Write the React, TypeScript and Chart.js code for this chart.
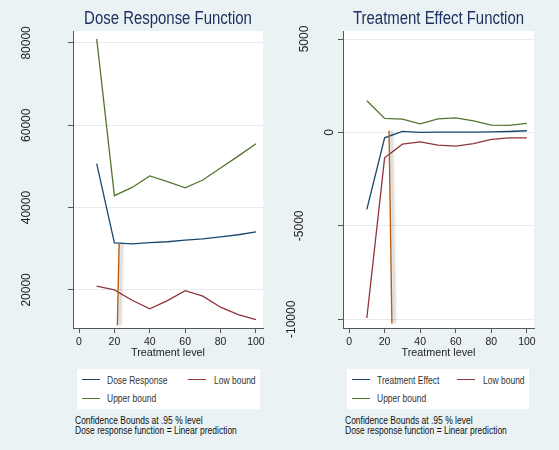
import React, { useEffect, useRef } from "react";
import { Chart, registerables } from "chart.js";

Chart.register(...registerables);

const REGULAR = '"Liberation Sans", Arial, sans-serif';

// ---------- data ----------
const treatmentLevels = [10, 20, 30, 40, 50, 60, 70, 80, 90, 100];

const doseResponse = [50700, 31400, 31200, 31500, 31700, 32100, 32400, 32900, 33400, 34100];
const doseLow = [20900, 20000, 17500, 15400, 17400, 19800, 18500, 15800, 14000, 12800];
const doseUpper = [81000, 42900, 44900, 47700, 46300, 44800, 46700, 49600, 52500, 55500];

const effect = [-4120, -290, 60, 0, 20, 20, 20, 30, 50, 90];
const effectLow = [-9930, -1360, -630, -500, -680, -730, -600, -370, -290, -290];
const effectUpper = [1700, 750, 710, 460, 730, 780, 620, 390, 380, 480];

const doseCutX = [21.7, 22.7];
const doseCutY = [11400, 31400];
const effectCutX = [24.1, 22.5];
const effectCutY = [-10230, 90];

const xTickValues = [0, 20, 40, 60, 80, 100];
const doseYTicks = [20000, 40000, 60000, 80000];
const effectYTicks = [-10000, -5000, 0, 5000];

const doseTitle = "Dose Response Function";
const effectTitle = "Treatment Effect Function";
const xAxisTitle = "Treatment level";
const noteLines = ["Confidence Bounds at .95 % level", "Dose response function = Linear prediction"];

const COLORS = {
  bg: "#eaf2f3",
  navy: "#1a476f",
  maroon: "#90353b",
  green: "#55752f",
  orange: "#b85f16",
  title: "#1e3160",
  axis: "#555555",
  grid: "#e4ecef",
  text: "#222222",
};

const pts = (xs: number[], ys: number[]) => xs.map((x, i) => ({ x, y: ys[i] }));

// ---------- plugins ----------
const plotBg = {
  id: "plotBg",
  beforeDraw(chart: any) {
    const { ctx, chartArea } = chart;
    ctx.save();
    ctx.fillStyle = "#ffffff";
    ctx.fillRect(chartArea.left, chartArea.top, chartArea.right - chartArea.left, chartArea.bottom - chartArea.top);
    ctx.restore();
  },
};

const shadowLine = {
  id: "shadowLine",
  beforeDatasetDraw(chart: any, args: any) {
    const ds = chart.data.datasets[args.index];
    if (ds && ds.withShadow) {
      const ctx = chart.ctx;
      ctx.save();
      ctx.shadowColor = "rgba(0,0,0,0.35)";
      ctx.shadowOffsetX = 2.5;
      ctx.shadowOffsetY = 0;
      ctx.shadowBlur = 3;
    }
  },
  afterDatasetDraw(chart: any, args: any) {
    const ds = chart.data.datasets[args.index];
    if (ds && ds.withShadow) chart.ctx.restore();
  },
};

const rotatedYLabels = {
  id: "rotatedYLabels",
  afterDraw(chart: any) {
    const y = chart.scales.y;
    const ctx = chart.ctx;
    ctx.save();
    ctx.font = `12px ${REGULAR}`;
    ctx.fillStyle = COLORS.text;
    ctx.textAlign = "center";
    ctx.textBaseline = "middle";
    y.ticks.forEach((t: any) => {
      const label = String(t.value);
      const w = ctx.measureText(label).width;
      const py = y.getPixelForValue(t.value);
      const cx = chart.chartArea.left - 4.5 - 1.25 * w;
      ctx.save();
      ctx.translate(cx, py);
      ctx.rotate(-Math.PI / 2);
      ctx.fillText(label, 0, 0);
      ctx.restore();
    });
    ctx.restore();
  },
};

const scaledTitle = {
  id: "scaledTitle",
  afterDraw(chart: any, _args: any, opts: any) {
    const { ctx, chartArea } = chart;
    ctx.save();
    ctx.font = `18px ${REGULAR}`;
    ctx.fillStyle = COLORS.title;
    ctx.textAlign = "center";
    ctx.textBaseline = "middle";
    ctx.translate((chartArea.left + chartArea.right) / 2, 19.5);
    ctx.scale(0.83, 1);
    ctx.fillText(opts.text, 0, 0);
    ctx.restore();
  },
};

type PanelSpec = {
  title: string;
  seriesLabel: string;
  main: number[];
  low: number[];
  upper: number[];
  cutX: number[];
  cutY: number[];
  yTicks: number[];
  yMin: number;
  yMax: number;
  yAxisWidth: number;
  padRight: number;
  legendLeft: number;
  noteLeft: number;
};

const CANVAS_W = 279;
const CANVAS_H = 365;

function Panel({ spec, left }: { spec: PanelSpec; left: number }) {
  const ref = useRef<HTMLCanvasElement | null>(null);
  useEffect(() => {
    if (!ref.current) return;
    const chart = new Chart(ref.current, {
      type: "line",
      data: {
        datasets: [
          {
            label: "cut",
            data: pts(spec.cutX, spec.cutY),
            borderColor: COLORS.orange,
            borderWidth: 1.4,
            pointRadius: 0,
            order: 0,
            withShadow: true,
          } as any,
          {
            label: spec.seriesLabel,
            data: pts(treatmentLevels, spec.main),
            borderColor: COLORS.navy,
            borderWidth: 1.3,
            pointRadius: 0,
            order: 1,
          },
          {
            label: "Low bound",
            data: pts(treatmentLevels, spec.low),
            borderColor: COLORS.maroon,
            borderWidth: 1.3,
            pointRadius: 0,
            order: 1,
          },
          {
            label: "Upper bound",
            data: pts(treatmentLevels, spec.upper),
            borderColor: COLORS.green,
            borderWidth: 1.3,
            pointRadius: 0,
            order: 1,
          },
        ],
      },
      options: {
        responsive: false,
        animation: false,
        events: [],
        layout: { padding: { left: 0, right: spec.padRight, top: 31, bottom: 0 } },
        plugins: {
          legend: { display: false },
          tooltip: { enabled: false },
          title: { display: false },
          scaledTitle: { text: spec.title },
        },
        scales: {
          x: {
            type: "linear",
            min: -3.4,
            max: 104,
            afterBuildTicks: (s: any) => {
              s.ticks = xTickValues.map((v) => ({ value: v }));
            },
            afterFit: (s: any) => {
              s.height = 37;
            },
            grid: {
              drawOnChartArea: false,
              drawTicks: true,
              tickLength: 5,
              tickColor: COLORS.axis,
              tickWidth: 1,
            },
            border: { display: true, color: COLORS.axis, width: 1 },
            ticks: {
              color: COLORS.text,
              font: { family: REGULAR, size: 10.5 },
              padding: 3,
              maxRotation: 0,
              autoSkip: false,
            },
            title: {
              display: true,
              text: xAxisTitle,
              color: COLORS.text,
              font: { family: REGULAR, size: 10.8, lineHeight: 1.2 },
              padding: { top: 0, bottom: 5 },
            },
          },
          y: {
            type: "linear",
            min: spec.yMin,
            max: spec.yMax,
            afterBuildTicks: (s: any) => {
              s.ticks = spec.yTicks.map((v) => ({ value: v }));
            },
            afterFit: (s: any) => {
              s.width = spec.yAxisWidth;
            },
            grid: {
              drawOnChartArea: true,
              color: COLORS.grid,
              lineWidth: 1,
              drawTicks: true,
              tickLength: 5,
              tickColor: COLORS.axis,
              tickWidth: 1,
            },
            border: { display: true, color: COLORS.axis, width: 1 },
            ticks: { display: false },
          },
        },
      } as any,
      plugins: [plotBg, shadowLine, rotatedYLabels, scaledTitle],
    });
    return () => chart.destroy();
  }, [spec]);

  const legendStyle: React.CSSProperties = {
    position: "absolute",
    left: left + spec.legendLeft,
    top: 369,
    width: 182.5,
    height: 40,
    background: "#ffffff",
    fontFamily: REGULAR,
    fontSize: 10,
    color: "#333333",
  };
  const lineSeg = (x: number, y: number, color: string): React.CSSProperties => ({
    position: "absolute",
    left: x,
    top: y - 0.65,
    width: 18,
    height: 1.3,
    background: color,
  });
  const txt = (x: number, y: number): React.CSSProperties => ({
    position: "absolute",
    left: x,
    top: y - 6,
    lineHeight: "12px",
    whiteSpace: "nowrap",
    transform: "scaleX(0.85)",
    transformOrigin: "left center",
  });

  return (
    <>
      <canvas
        ref={ref}
        width={CANVAS_W}
        height={CANVAS_H}
        style={{ position: "absolute", left, top: 0, width: CANVAS_W, height: CANVAS_H }}
      />
      <div style={legendStyle}>
        <div style={lineSeg(5, 10.5, COLORS.navy)} />
        <div style={txt(30, 11.5)}>{spec.seriesLabel}</div>
        <div style={lineSeg(110.5, 10.5, COLORS.maroon)} />
        <div style={txt(136.5, 11.5)}>Low bound</div>
        <div style={lineSeg(5, 29.3, COLORS.green)} />
        <div style={txt(30, 29.5)}>Upper bound</div>
      </div>
      <div
        style={{
          position: "absolute",
          left: left + spec.noteLeft,
          top: 415.5,
          fontFamily: REGULAR,
          fontSize: 10,
          lineHeight: "10px",
          color: "#111111",
          whiteSpace: "nowrap",
          transform: "scaleX(0.85)",
          transformOrigin: "left top",
        }}
      >
        {noteLines.map((l) => (
          <div key={l}>{l}</div>
        ))}
      </div>
    </>
  );
}

const doseSpec: PanelSpec = {
  title: doseTitle,
  seriesLabel: "Dose Response",
  main: doseResponse,
  low: doseLow,
  upper: doseUpper,
  cutX: doseCutX,
  cutY: doseCutY,
  yTicks: doseYTicks,
  yMin: 10750,
  yMax: 82900,
  yAxisWidth: 73,
  padRight: 16,
  legendLeft: 77,
  noteLeft: 75,
};

const effectSpec: PanelSpec = {
  title: effectTitle,
  seriesLabel: "Treatment Effect",
  main: effect,
  low: effectLow,
  upper: effectUpper,
  cutX: effectCutX,
  cutY: effectCutY,
  yTicks: effectYTicks,
  yMin: -10466,
  yMax: 5429,
  yAxisWidth: 63,
  padRight: 25,
  legendLeft: 66.7,
  noteLeft: 65,
};

export default function App() {
  return (
    <div
      style={{
        position: "fixed",
        left: 0,
        top: 0,
        width: 559,
        height: 450,
        background: COLORS.bg,
        overflow: "hidden",
      }}
    >
      <Panel spec={doseSpec} left={0} />
      <Panel spec={effectSpec} left={280} />
    </div>
  );
}
